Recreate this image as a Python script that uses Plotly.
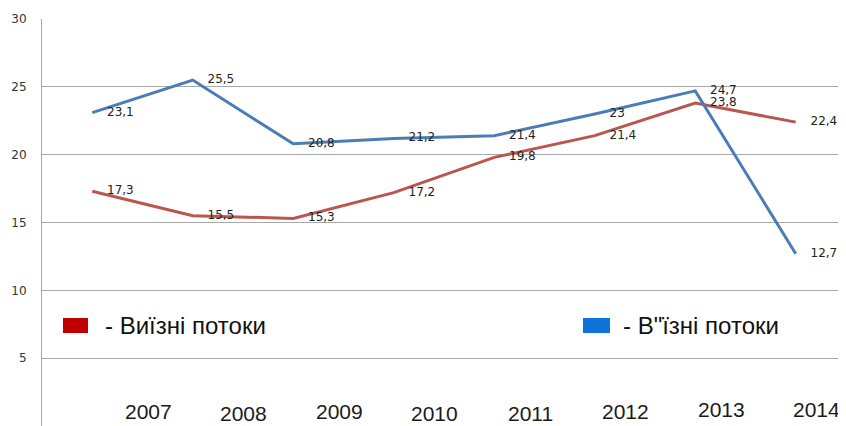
import plotly.graph_objects as go

# ---- data ----
years = ["2007", "2008", "2009", "2010", "2011", "2012", "2013", "2014"]
inbound = [23.1, 25.5, 20.8, 21.2, 21.4, 23.0, 24.7, 12.7]    # В"їзні потоки
outbound = [17.3, 15.5, 15.3, 17.2, 19.8, 21.4, 23.8, 22.4]   # Виїзні потоки
yticks = [0, 5, 10, 15, 20, 25, 30]
legend_out = "- Виїзні потоки"
legend_in = "- В\"їзні потоки"

OFF = 8  # default page margin around the figure
W, H = 846 - OFF, 426 - OFF
ML, MR, MT, MB = 42 - OFF, 0, 19 - OFF, 0
PW, PH = W - ML - MR, H - MT - MB


def fmt(v):
    return f"{v:g}".replace(".", ",")


def px_x(x):
    return (x - OFF - ML) / PW


def px_y(y):
    return (OFF + H - MB - y) / PH


BLUE = "#4a7db5"
RED = "#bb5550"
label_font = dict(family="DejaVu Sans", size=12, color="#222222")

fig = go.Figure()
fig.add_trace(go.Scatter(
    x=years, y=outbound, mode="lines+markers+text",
    line=dict(color=RED, width=3),
    marker=dict(size=22, color="rgba(0,0,0,0)"),
    text=[fmt(v) for v in outbound], textposition="middle right",
    textfont=label_font, cliponaxis=False, hoverinfo="skip", showlegend=False,
))
fig.add_trace(go.Scatter(
    x=years, y=inbound, mode="lines+markers+text",
    line=dict(color=BLUE, width=3),
    marker=dict(size=22, color="rgba(0,0,0,0)"),
    text=[fmt(v) for v in inbound], textposition="middle right",
    textfont=label_font, cliponaxis=False, hoverinfo="skip", showlegend=False,
))

annotations = []
# year labels (placed on their own overlay axis, as in the source image)
year_yshift = [2, 0, 2, 0, 0, 2, 4, 4]
for i, yr in enumerate(years):
    annotations.append(dict(
        x=i, xref="x2", y=0, yref="paper", yanchor="bottom", xanchor="center",
        text=yr, showarrow=False, yshift=year_yshift[i], borderpad=0,
        font=dict(family="Liberation Sans, Arial", size=21, color="#1a1a1a"),
    ))

# legend texts
annotations.append(dict(x=px_x(103), y=px_y(325), xref="paper", yref="paper",
                        xanchor="left", yanchor="middle", text=legend_out, showarrow=False,
                        font=dict(family="Liberation Sans, Arial", size=24, color="#111111")))
annotations.append(dict(x=px_x(621), y=px_y(325), xref="paper", yref="paper",
                        xanchor="left", yanchor="middle", text=legend_in, showarrow=False,
                        font=dict(family="Liberation Sans, Arial", size=24, color="#111111")))

shapes = [
    dict(type="rect", xref="paper", yref="paper", x0=px_x(63), x1=px_x(88),
         y0=px_y(333), y1=px_y(318), fillcolor="#c00000", line=dict(width=0)),
    dict(type="rect", xref="paper", yref="paper", x0=px_x(583), x1=px_x(610),
         y0=px_y(333), y1=px_y(318), fillcolor="#0f74d8", line=dict(width=0)),
]

x2_left = -1 - (148 - 42 - 95.5) / 95.5
x2_right = x2_left + PW / 95.5

fig.update_layout(
    width=W, height=H,
    margin=dict(l=ML, r=MR, t=MT, b=MB, pad=0),
    paper_bgcolor="white", plot_bgcolor="white",
    showlegend=False,
    xaxis=dict(type="category", range=[-0.5, len(years) - 0.5], showticklabels=False,
               showgrid=False, zeroline=False, showline=False, ticks=""),
    xaxis2=dict(overlaying="x", range=[x2_left, x2_right], visible=False),
    yaxis=dict(range=[0, 30], tickvals=yticks, ticktext=[str(t) for t in yticks],
               showgrid=True, gridcolor="#a8a8a8", gridwidth=1,
               showline=True, linecolor="#a8a8a8", linewidth=1,
               zeroline=False, ticks="", ticklabelstandoff=12,
               tickfont=dict(family="DejaVu Sans", size=12, color="#333333")),
    annotations=annotations,
    shapes=shapes,
)

fig.write_html("out.html")
